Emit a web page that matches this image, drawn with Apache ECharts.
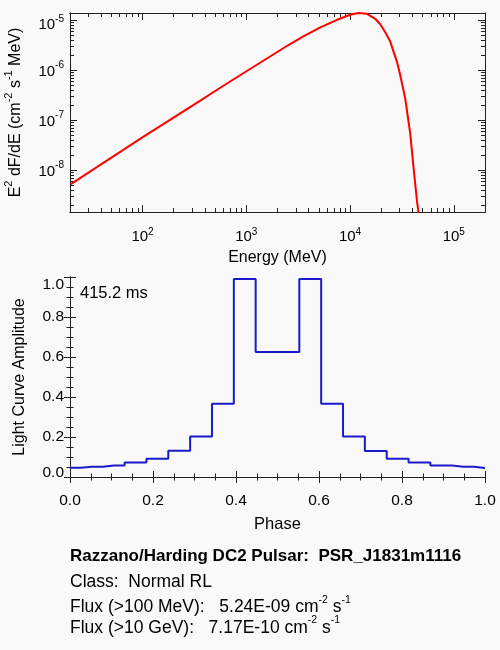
<!DOCTYPE html>
<html>
<head>
<meta charset="utf-8">
<script src="https://cdn.jsdelivr.net/npm/echarts@6/dist/echarts.min.js"></script>
<style>
  html, body { margin: 0; padding: 0; background: #f9f9f9; }
  #main { width: 500px; height: 650px; }
</style>
</head>
<body>
<div id="main"></div>
<script>
// spectrum
var energy = [20.4, 96.3, 187.2, 364, 566, 1022, 1713, 2477, 3581, 5180, 7499, 10020, 12100, 14570,
    17510, 19560, 21850, 24410, 28310, 30460, 34020, 38000, 40890, 44090, 45660, 46900];
var flux = [5.25e-9, 4.31e-8, 1.038e-7, 2.49e-7, 4.51e-7, 9.77e-7, 1.905e-6, 3.09e-6, 4.83e-6, 7.24e-6, 1.023e-5, 1.288e-5, 1.40e-5, 1.349e-5,
    1.072e-5, 8.32e-6, 5.75e-6, 3.75e-6, 1.49e-6, 8.05e-7, 2.75e-7, 5.5e-8, 1.16e-8, 2.51e-9, 1.45e-9, 7.6e-10];

// light curve
var phase = [0, 0.0526, 0.1053, 0.1579, 0.2105, 0.2632, 0.3158, 0.3684, 0.4211, 0.4737,
    0.5263, 0.5789, 0.6316, 0.6842, 0.7368, 0.7895, 0.8421, 0.8947, 0.9474, 1.0];
var amplitude = [0.046, 0.0515, 0.058, 0.073, 0.0915, 0.1315, 0.203, 0.3665, 0.99, 0.625,
    0.625, 0.99, 0.3665, 0.203, 0.13, 0.0915, 0.073, 0.058, 0.0515, 0.045];

// tick values
var energyMajor = [100, 1000, 10000, 100000];
var energyMinor = [20, 30, 40, 50, 60, 70, 80, 90, 200, 300, 400, 500, 600, 700, 800, 900,
    2000, 3000, 4000, 5000, 6000, 7000, 8000, 9000, 20000, 30000, 40000, 50000, 60000, 70000, 80000, 90000, 200000];
var fluxMajor = [1e-8, 1e-7, 1e-6, 1e-5];
var fluxMinor = [2e-9, 3e-9, 4e-9, 5e-9, 6e-9, 7e-9, 8e-9, 9e-9, 2e-8, 3e-8, 4e-8, 5e-8, 6e-8, 7e-8, 8e-8, 9e-8,
    2e-7, 3e-7, 4e-7, 5e-7, 6e-7, 7e-7, 8e-7, 9e-7, 2e-6, 3e-6, 4e-6, 5e-6, 6e-6, 7e-6, 8e-6, 9e-6];

var FONT = '"Liberation Sans", Arial, Helvetica, sans-serif';
var AXC = '#222';

var xRich = {
    b: { fontSize: 15, lineHeight: 17, verticalAlign: 'bottom', fontFamily: FONT, color: '#000' },
    s: { fontSize: 10, lineHeight: 10, verticalAlign: 'top', fontFamily: FONT, color: '#000' }
};
var yRich = {
    b: { fontSize: 15, lineHeight: 19, verticalAlign: 'bottom', fontFamily: FONT, color: '#000' },
    s: { fontSize: 10, lineHeight: 10, verticalAlign: 'top', fontFamily: FONT, color: '#000' },
    bt: { fontSize: 15, lineHeight: 24, verticalAlign: 'bottom', fontFamily: FONT, color: '#000' },
    st: { fontSize: 10, lineHeight: 10, padding: [6, 0, 0, 0], verticalAlign: 'top', fontFamily: FONT, color: '#000' }
};
var nameRich = {
    b: { fontSize: 16, lineHeight: 20, verticalAlign: 'bottom', fontFamily: FONT, fill: '#000' },
    s: { fontSize: 11, lineHeight: 11, verticalAlign: 'top', fontFamily: FONT, fill: '#000' }
};
var fluxRich = {
    b: { fontSize: 17.5, lineHeight: 22, verticalAlign: 'bottom', fontFamily: FONT, fill: '#000' },
    s: { fontSize: 10.5, lineHeight: 10, verticalAlign: 'top', fontFamily: FONT, fill: '#000' }
};

function powLabel(v) {
    return '{b|10}{s|' + Math.round(Math.log10(v)) + '}';
}
function powLabelY(v) {
    var e = Math.round(Math.log10(v));
    if (e === -5) return '{bt|10}{st|' + e + '}';
    return '{b|10}{s|' + e + '}';
}

function logAxis(grid, pos, min, max, major, minor, extra) {
    var ax = {
        type: 'log', gridIndex: grid, position: pos, min: min, max: max,
        axisLine: { show: true, lineStyle: { color: AXC, width: 1 } },
        axisTick: { show: true, inside: true, length: minor ? 4 : 7, customValues: minor || major, lineStyle: { color: AXC } },
        axisLabel: { show: false },
        splitLine: { show: false }
    };
    return Object.assign(ax, extra || {});
}

function linAxis(grid, pos, extra) {
    var ax = {
        type: 'value', gridIndex: grid, position: pos, min: 0, max: 1, interval: 0.2,
        axisLine: { show: true, lineStyle: { color: AXC, width: 1 } },
        axisTick: { show: true, inside: true, length: 6, lineStyle: { color: AXC } },
        minorTick: { show: true, splitNumber: 4, length: 3.5, lineStyle: { color: AXC } },
        axisLabel: { show: false },
        splitLine: { show: false },
        minorSplitLine: { show: false }
    };
    return Object.assign(ax, extra || {});
}

var myChart = echarts.init(document.getElementById('main'));

var option = {
    backgroundColor: '#f9f9f9',
    animation: false,
    grid: [
        { left: 70, right: 15, top: 13, height: 199 },
        { left: 70, right: 15, top: 277, height: 200 }
    ],
    xAxis: [
        logAxis(0, 'bottom', 20, 2e5, energyMajor, null, {
            name: 'Energy (MeV)', nameLocation: 'middle', nameGap: 38,
            nameTextStyle: { fontSize: 16, fontFamily: FONT, color: '#000' },
            axisLabel: { show: true, customValues: energyMajor, formatter: powLabel, rich: xRich, margin: 15 }
        }),
        logAxis(0, 'top', 20, 2e5, energyMajor, null),
        logAxis(0, 'bottom', 20, 2e5, energyMajor, energyMinor),
        logAxis(0, 'top', 20, 2e5, energyMajor, energyMinor),
        linAxis(1, 'bottom', {
            name: 'Phase', nameLocation: 'middle', nameGap: 39,
            nameTextStyle: { fontSize: 16.5, fontFamily: FONT, color: '#000' },
            axisLabel: {
                show: true, margin: 16, fontSize: 15.5, fontFamily: FONT, color: '#000',
                formatter: function (v) { return v.toFixed(1); }
            }
        }),
        linAxis(1, 'top')
    ],
    yAxis: [
        logAxis(0, 'left', 1.45e-9, 1.4e-5, fluxMajor, null, {
            axisLabel: { show: true, customValues: fluxMajor, formatter: powLabelY, rich: yRich, margin: 6 }
        }),
        logAxis(0, 'right', 1.45e-9, 1.4e-5, fluxMajor, null),
        logAxis(0, 'left', 1.45e-9, 1.4e-5, fluxMajor, fluxMinor),
        logAxis(0, 'right', 1.45e-9, 1.4e-5, fluxMajor, fluxMinor),
        linAxis(1, 'left', {
            name: 'Light Curve Amplitude', nameLocation: 'middle', nameGap: 42,
            nameTextStyle: { fontSize: 16, fontFamily: FONT, color: '#000' },
            axisLabel: {
                show: true, margin: 6, fontSize: 15.5, fontFamily: FONT, color: '#000',
                formatter: function (v) {
                    if (v === 0) return '{lo|0.0}';
                    if (v === 1) return '{hi|1.0}';
                    return v.toFixed(1);
                },
                rich: {
                    lo: { fontSize: 15.5, fontFamily: FONT, color: '#000', padding: [0, 0, 9, 0] },
                    hi: { fontSize: 15.5, fontFamily: FONT, color: '#000', padding: [16, 0, 0, 0] }
                }
            }
        }),
        linAxis(1, 'right')
    ],
    series: [
        {
            type: 'line', xAxisIndex: 0, yAxisIndex: 0,
            data: energy.map(function (e, i) { return [e, flux[i]]; }),
            showSymbol: false, smooth: false, clip: true,
            lineStyle: { color: '#ff0000', width: 2 }
        },
        {
            type: 'line', xAxisIndex: 4, yAxisIndex: 4, step: 'middle',
            data: phase.map(function (p, i) { return [p, amplitude[i]]; }),
            showSymbol: false, clip: true,
            lineStyle: { color: '#1a1acc', width: 2 }
        }
    ]
};

myChart.setOption(option);

// touch the tick lists so the custom log ticks are in place before the redraw below
myChart.getModel().getComponent('xAxis', 0).axis.getTicksCoords();

// titles and notes
myChart.setOption({
    graphic: [
        {
            type: 'text', x: 13.3, y: 112.5, rotation: Math.PI / 2,
            style: { text: '{b|E}{s|2}{b| dF/dE (cm}{s|-2}{b| s}{s|-1}{b| MeV)}', rich: nameRich, align: 'center', verticalAlign: 'middle' }
        },
        { type: 'text', x: 80, y: 293, style: { text: '415.2 ms', font: '16.5px ' + FONT, fill: '#000', verticalAlign: 'middle' } },
        { type: 'text', x: 70, y: 556, style: { text: 'Razzano/Harding DC2 Pulsar:  PSR_J1831m1116', font: 'bold 17px ' + FONT, fill: '#000', verticalAlign: 'middle' } },
        { type: 'text', x: 70, y: 582, style: { text: 'Class:  Normal RL', font: '17.5px ' + FONT, fill: '#000', verticalAlign: 'middle' } },
        { type: 'text', x: 70, y: 605.5, style: { text: '{b|Flux (>100 MeV):   5.24E-09 cm}{s|-2}{b| s}{s|-1}', rich: fluxRich, verticalAlign: 'middle' } },
        { type: 'text', x: 70, y: 626, style: { text: '{b|Flux (>10 GeV):   7.17E-10 cm}{s|-2}{b| s}{s|-1}', rich: fluxRich, verticalAlign: 'middle' } }
    ]
});
</script>
</body>
</html>
